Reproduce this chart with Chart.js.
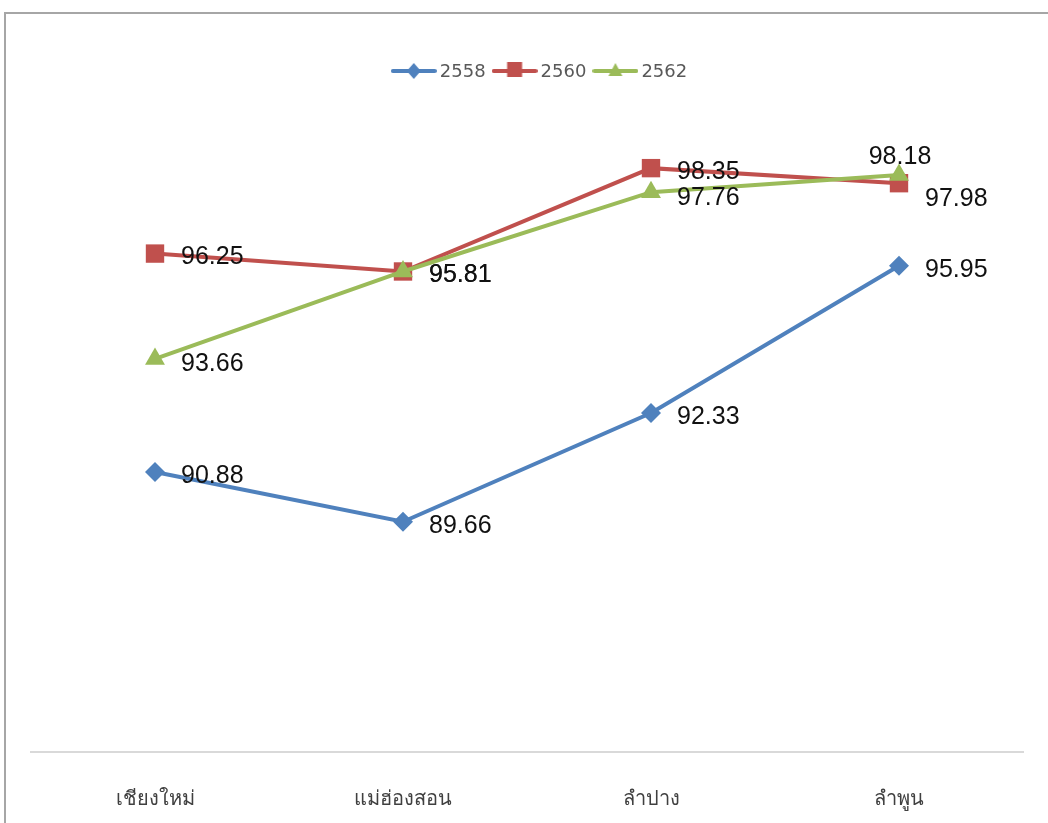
<!DOCTYPE html>
<html>
<head>
<meta charset="utf-8">
<script src="https://cdn.jsdelivr.net/npm/chart.js@4/dist/chart.umd.min.js"></script>
<style>
  html, body { margin: 0; padding: 0; background: #fff; overflow: hidden; }
  #wrap { position: absolute; left: 0; top: 0; width: 1048px; height: 823px; }
</style>
</head>
<body>
<div id="wrap"><canvas id="c" width="1048" height="823"></canvas></div>
<script>
const categories = ['เชียงใหม่', 'แม่ฮ่องสอน', 'ลำปาง', 'ลำพูน'];
const seriesNames = ['2558', '2560', '2562'];
const values2558 = [90.88, 89.66, 92.33, 95.95];
const values2560 = [96.25, 95.81, 98.35, 97.98];
const values2562 = [93.66, 95.81, 97.76, 98.18];
const yMin = 84, yMax = 100;

const colors = ['#4F81BD', '#C0504D', '#9BBB59'];
const pointStyles = ['rectRot', 'rect', 'triangle'];
const pointRadii = [10, 13, 11.5];

// label placement tweaks (style only): [datasetIndex][pointIndex]
const labelPlacement = [
  [{}, {}, {}, {}],
  [{}, {}, {}, {dy: 16}],
  [{dy: 5}, {}, {dy: 6}, {above: true}]
];

function legendIcon(color, style) {
  const c = document.createElement('canvas');
  c.width = 46; c.height = 22;
  const g = c.getContext('2d');
  g.strokeStyle = color; g.lineWidth = 4; g.lineCap = 'round';
  g.beginPath(); g.moveTo(2, 11); g.lineTo(44, 11); g.stroke();
  g.fillStyle = color;
  g.beginPath();
  if (style === 'rectRot') {
    g.moveTo(23, 3); g.lineTo(30, 11); g.lineTo(23, 19); g.lineTo(16, 11);
  } else if (style === 'rect') {
    g.rect(15.5, 2, 15, 15);
  } else {
    g.moveTo(23, 3); g.lineTo(30, 16); g.lineTo(16, 16);
  }
  g.closePath(); g.fill();
  return c;
}

const allValues = [values2558, values2560, values2562];

const frame = {
  id: 'frame',
  beforeDraw(chart) {
    const ctx = chart.ctx;
    ctx.save();
    ctx.fillStyle = '#fff';
    ctx.fillRect(0, 0, chart.width, chart.height);
    ctx.strokeStyle = '#a6a6a6';
    ctx.lineWidth = 2;
    ctx.beginPath();
    ctx.moveTo(5, chart.height + 5);
    ctx.lineTo(5, 13);
    ctx.lineTo(chart.width + 5, 13);
    ctx.stroke();
    ctx.restore();
  }
};

const customLegend = {
  id: 'customLegend',
  afterDraw(chart) {
    const ctx = chart.ctx;
    ctx.save();
    ctx.font = '18px "DejaVu Sans", sans-serif';
    ctx.fillStyle = '#595959';
    ctx.textBaseline = 'middle';
    ctx.textAlign = 'left';
    const iconW = 46, gapText = 3, gapItem = 6;
    const items = chart.data.datasets.map((ds, i) => ({
      text: ds.label,
      icon: legendIcon(colors[i], pointStyles[i]),
      w: ctx.measureText(ds.label).width
    }));
    const total = items.reduce((s, it) => s + iconW + gapText + it.w, 0) + gapItem * (items.length - 1);
    const ca = chart.chartArea;
    const cy = 71;
    let x = (ca.left + ca.right) / 2 + 12 - total / 2;
    items.forEach(it => {
      ctx.drawImage(it.icon, x, cy - 11);
      x += iconW + gapText;
      ctx.fillText(it.text, x, cy + 1);
      x += it.w + gapItem;
    });
    ctx.restore();
  }
};

const dataLabels = {
  id: 'dataLabels',
  afterDatasetsDraw(chart) {
    const ctx = chart.ctx;
    ctx.save();
    ctx.font = '25px "Liberation Sans", Arial, sans-serif';
    ctx.fillStyle = '#111';
    chart.data.datasets.forEach((ds, di) => {
      const meta = chart.getDatasetMeta(di);
      meta.data.forEach((pt, i) => {
        const p = labelPlacement[di][i] || {};
        const txt = ds.data[i].toFixed(2);
        ctx.textBaseline = 'middle';
        if (p.above) {
          ctx.textAlign = 'center';
          ctx.fillText(txt, pt.x + 1, pt.y - 18);
        } else {
          ctx.textAlign = 'left';
          ctx.fillText(txt, pt.x + 26, pt.y + (p.dy !== undefined ? p.dy : 4));
        }
      });
    });
    ctx.restore();
  }
};

new Chart(document.getElementById('c'), {
  type: 'line',
  data: {
    labels: categories,
    datasets: seriesNames.map((name, i) => ({
      label: name,
      data: allValues[i],
      order: seriesNames.length - 1 - i,
      borderColor: colors[i],
      backgroundColor: colors[i],
      borderWidth: 4,
      pointStyle: pointStyles[i],
      pointRadius: pointRadii[i],
      pointHoverRadius: pointRadii[i],
      pointBorderWidth: 0,
      tension: 0,
      fill: false
    }))
  },
  options: {
    responsive: false,
    animation: false,
    devicePixelRatio: 1,
    layout: { padding: { left: 31, right: 25, top: 101, bottom: 0 } },
    plugins: {
      tooltip: { enabled: false },
      legend: { display: false }
    },
    scales: {
      x: {
        offset: true,
        grid: { display: false },
        border: { display: true, color: '#d9d9d9', width: 2 },
        ticks: {
          color: '#404040',
          padding: 27,
          font: { family: '"Noto Sans", "DejaVu Sans", sans-serif', size: 20 }
        },
        afterFit(scale) { scale.height = 71; }
      },
      y: {
        display: false,
        min: yMin,
        max: yMax
      }
    }
  },
  plugins: [frame, dataLabels, customLegend]
});
</script>
</body>
</html>
